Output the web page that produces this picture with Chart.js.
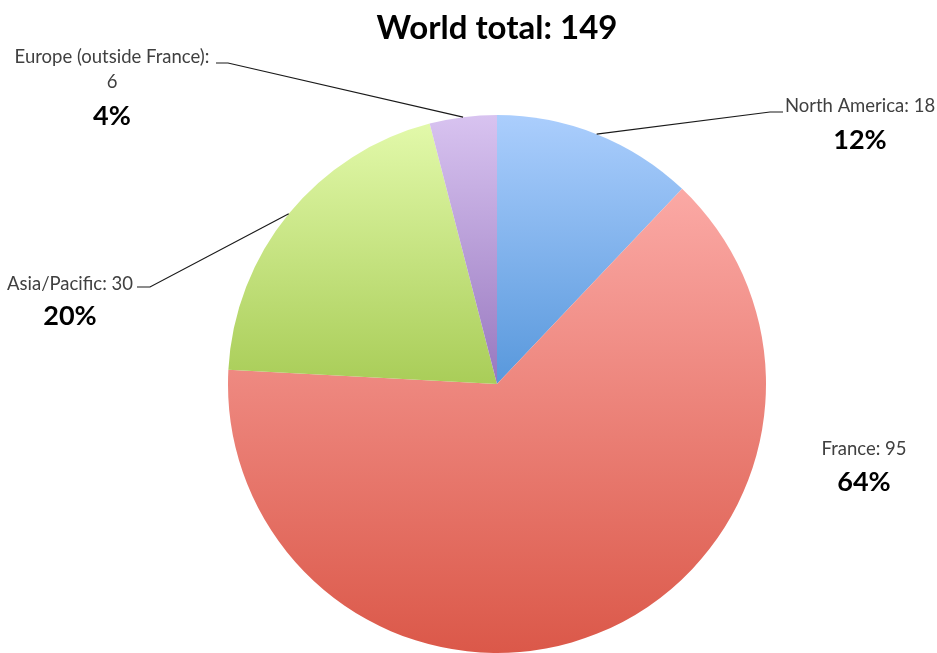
<!DOCTYPE html>
<html>
<head>
<meta charset="utf-8">
<script src="https://cdn.jsdelivr.net/npm/chart.js@4.4.1/dist/chart.umd.min.js"></script>
<style>
  html, body { margin: 0; padding: 0; background: #fff; }
  #wrap { width: 937px; height: 653px; }
</style>
</head>
<body>
<div id="wrap"><canvas id="pie" width="937" height="653"></canvas></div>
<script>
// chart values
const regions = ['North America', 'France', 'Asia/Pacific', 'Europe (outside France)'];
const counts = [18, 95, 30, 6];
const chartTitle = 'World total: 149';

// gradient stops per slice (top -> bottom)
const topColors = ['#abcefd', '#fba9a5', '#e2f9aa', '#d8c3f0'];
const bottomColors = ['#5898dc', '#db5849', '#a9cd58', '#9878bf'];

// where each outside label sits: elbow of the leader line and the text block
const labelSpots = [
    { elbow: [770, 112], end: [783, 112], cx: 860, lines: [106, 140] },
    { elbow: null, end: null, cx: 864, lines: [449, 482] },
    { elbow: [150, 287], end: [137, 287], cx: 70, lines: [284, 316] },
    { elbow: [228, 63], end: [216, 63], cx: 112, lines: [57, 82, 116] },
];

const FONT = 'Lato, "Open Sans", sans-serif';

const total = counts.reduce((a, b) => a + b, 0);

const sliceFill = (chart, i) => {
    const area = chart.chartArea;
    if (!area) {
        return topColors[i];
    }
    const cx = (area.left + area.right) / 2;
    const cy = (area.top + area.bottom) / 2;
    const r = Math.min(area.right - area.left, area.bottom - area.top) / 2;
    let cum = 0;
    for (let k = 0; k < i; k++) cum += counts[k];
    const a0 = -Math.PI / 2 + 2 * Math.PI * cum / total;
    const a1 = a0 + 2 * Math.PI * counts[i] / total;
    const ys = [cy, cy + r * Math.sin(a0), cy + r * Math.sin(a1)];
    const within = (a) => {
        for (let t = a - 4 * Math.PI; t <= a + 4 * Math.PI; t += 2 * Math.PI) {
            if (t >= a0 && t <= a1) return true;
        }
        return false;
    };
    if (within(Math.PI / 2)) ys.push(cy + r);
    if (within(-Math.PI / 2)) ys.push(cy - r);
    const g = chart.ctx.createLinearGradient(0, Math.min(...ys), 0, Math.max(...ys));
    g.addColorStop(0, topColors[i]);
    g.addColorStop(1, bottomColors[i]);
    return g;
};

const labelsPlugin = {
    id: 'outsideLabels',
    afterDraw(chart) {
        const ctx = chart.ctx;
        const meta = chart.getDatasetMeta(0);
        ctx.save();

        // title
        ctx.fillStyle = '#000';
        ctx.font = 'bold 33px ' + FONT;
        ctx.textAlign = 'center';
        ctx.textBaseline = 'middle';
        ctx.fillText(chartTitle, 497, 28);

        meta.data.forEach((arc, i) => {
            const p = arc.getProps(['x', 'y', 'startAngle', 'endAngle', 'outerRadius'], true);
            const mid = (p.startAngle + p.endAngle) / 2;
            const spot = labelSpots[i];

            if (spot.elbow) {
                ctx.strokeStyle = '#1a1a1a';
                ctx.lineWidth = 1.2;
                ctx.beginPath();
                ctx.moveTo(p.x + p.outerRadius * Math.cos(mid), p.y + p.outerRadius * Math.sin(mid));
                ctx.lineTo(spot.elbow[0], spot.elbow[1]);
                ctx.lineTo(spot.end[0], spot.end[1]);
                ctx.stroke();
            }

            const pct = Math.round(counts[i] / total * 100) + '%';
            let textLines;
            if (i === 3) {
                textLines = [regions[i] + ':', String(counts[i])];
            } else {
                textLines = [regions[i] + ': ' + counts[i]];
            }
            ctx.textAlign = 'center';
            ctx.textBaseline = 'middle';
            textLines.forEach((t, k) => {
                ctx.fillStyle = '#404040';
                ctx.font = '18.5px ' + FONT;
                ctx.fillText(t, spot.cx, spot.lines[k]);
            });
            ctx.fillStyle = '#000';
            ctx.font = 'bold 27px ' + FONT;
            ctx.fillText(pct, spot.cx, spot.lines[spot.lines.length - 1]);
        });
        ctx.restore();
    }
};

const chart = new Chart(document.getElementById('pie'), {
    type: 'pie',
    data: {
        labels: regions,
        datasets: [{
            data: counts,
            backgroundColor: (context) => sliceFill(context.chart, context.dataIndex),
            borderWidth: 0,
        }]
    },
    plugins: [labelsPlugin],
    options: {
        responsive: false,
        animation: false,
        layout: {
            padding: { top: 115, bottom: 0, left: 228, right: 171 }
        },
        plugins: {
            legend: { display: false },
            title: { display: false },
            tooltip: { enabled: false }
        }
    }
});
</script>
</body>
</html>
